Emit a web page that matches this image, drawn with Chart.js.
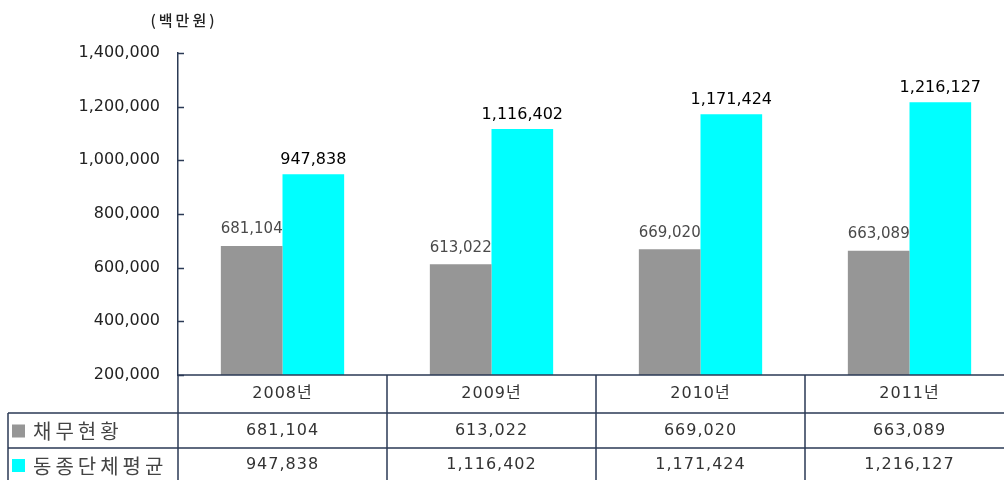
<!DOCTYPE html>
<html>
<head>
<meta charset="utf-8">
<script src="https://cdn.jsdelivr.net/npm/chart.js@4/dist/chart.umd.min.js"></script>
<style>
  html, body { margin: 0; padding: 0; background: #fff; overflow: hidden; }
  #wrap { width: 1004px; height: 480px; overflow: hidden; }
</style>
</head>
<body>
<div id="wrap"><canvas id="debtChart" width="1014" height="480"></canvas></div>
<script>
const categories = ['2008년', '2009년', '2010년', '2011년'];
const debtValues = [681104, 613022, 669020, 663089];
const peerAvgValues = [947838, 1116402, 1171424, 1216127];
const seriesNames = ['채무현황', '동종단체평균'];
const seriesColors = ['#969696', '#00ffff'];
const unitLabel = '(백만원)';

const FONT = "'DejaVu Sans', 'Noto Sans CJK KR', sans-serif";
const KR_FONT = "'Noto Sans CJK KR', sans-serif";
const LINE = '#2b3a55';

function fmt(v) {
    return v.toLocaleString('en-US');
}

// labels above each bar
const barLabels = {
    id: 'barLabels',
    afterDatasetsDraw(chart) {
        const ctx = chart.ctx;
        ctx.save();
        ctx.textAlign = 'center';
        ctx.textBaseline = 'bottom';
        chart.data.datasets.forEach((ds, i) => {
            const meta = chart.getDatasetMeta(i);
            ctx.font = (i === 0 ? '15px ' : '16px ') + FONT;
            ctx.fillStyle = i === 0 ? '#4a4a4a' : '#000';
            meta.data.forEach((bar, j) => {
                ctx.fillText(fmt(ds.data[j]), bar.x, bar.y - (i === 0 ? 9 : 6));
            });
        });
        ctx.restore();
    }
};

// unit text, inner ticks and the data table under the plot
const dataTable = {
    id: 'dataTable',
    afterDraw(chart) {
        const {ctx, chartArea, scales: {x, y}} = chart;
        const half = (x.getPixelForValue(1) - x.getPixelForValue(0)) / 2;
        const left = chartArea.left;
        const top = chartArea.bottom;
        const rows = [top, top + 38, top + 73, chart.height];
        ctx.save();

        ctx.fillStyle = '#222';
        ctx.font = '500 15px ' + KR_FONT;
        ctx.letterSpacing = '3px';
        ctx.textAlign = 'center';
        ctx.textBaseline = 'middle';
        ctx.fillText(unitLabel, left + 6, 20);
        ctx.letterSpacing = '0px';

        ctx.strokeStyle = LINE;
        ctx.lineWidth = 1.5;
        // small ticks pointing into the plot
        y.ticks.forEach(t => {
            const py = Math.round(y.getPixelForValue(t.value)) + 0.5;
            ctx.beginPath();
            ctx.moveTo(left, py);
            ctx.lineTo(left + 6, py);
            ctx.stroke();
        });

        // horizontal lines
        ctx.beginPath();
        ctx.moveTo(left, rows[0]);
        ctx.lineTo(chart.width, rows[0]);
        ctx.moveTo(8, rows[1]);
        ctx.lineTo(chart.width, rows[1]);
        ctx.moveTo(8, rows[2]);
        ctx.lineTo(chart.width, rows[2]);
        // vertical lines
        ctx.moveTo(8, rows[1]);
        ctx.lineTo(8, rows[3]);
        ctx.moveTo(left, rows[0]);
        ctx.lineTo(left, rows[3]);
        categories.forEach((c, i) => {
            const rx = x.getPixelForValue(i) + half;
            ctx.moveTo(rx, rows[0]);
            ctx.lineTo(rx, rows[3]);
        });
        ctx.stroke();

        ctx.textAlign = 'center';
        ctx.textBaseline = 'middle';
        ctx.font = '16px ' + FONT;
        ctx.letterSpacing = '1px';
        ctx.fillStyle = '#333';
        categories.forEach((c, i) => {
            const cx = x.getPixelForValue(i);
            ctx.fillText(c, cx, (rows[0] + rows[1]) / 2);
            ctx.fillText(fmt(debtValues[i]), cx, (rows[1] + rows[2]) / 2);
            ctx.fillText(fmt(peerAvgValues[i]), cx, rows[2] + 17);
        });

        // legend column
        ctx.textAlign = 'left';
        ctx.font = '20px ' + KR_FONT;
        ctx.letterSpacing = '4px';
        seriesNames.forEach((name, i) => {
            const cy = i === 0 ? (rows[1] + rows[2]) / 2 : rows[2] + 17;
            ctx.fillStyle = seriesColors[i];
            ctx.fillRect(12, cy - 6, 13, 13);
            ctx.fillStyle = '#444';
            ctx.fillText(name, 33, cy + 1);
        });
        ctx.restore();
    }
};

const ctx = document.getElementById('debtChart').getContext('2d');
const debtChart = new Chart(ctx, {
    type: 'bar',
    data: {
        labels: categories,
        datasets: [{
            label: seriesNames[0],
            data: debtValues,
            backgroundColor: seriesColors[0]
        }, {
            label: seriesNames[1],
            data: peerAvgValues,
            backgroundColor: seriesColors[1]
        }]
    },
    options: {
        responsive: false,
        animation: false,
        layout: { padding: { top: 53, bottom: 105, left: 0, right: 0 } },
        datasets: {
            bar: { categoryPercentage: 0.59, barPercentage: 1.0 }
        },
        plugins: {
            legend: { display: false },
            tooltip: { enabled: false }
        },
        scales: {
            x: { display: false },
            y: {
                min: 200000,
                max: 1400000,
                afterFit: scale => { scale.width = 178; },
                border: { display: true, color: LINE, width: 1.5 },
                grid: { display: false, drawTicks: false },
                ticks: {
                    stepSize: 200000,
                    padding: 18,
                    color: '#222',
                    font: { family: FONT, size: 16 },
                    callback: v => fmt(v)
                }
            }
        }
    },
    plugins: [barLabels, dataTable]
});
</script>
</body>
</html>
